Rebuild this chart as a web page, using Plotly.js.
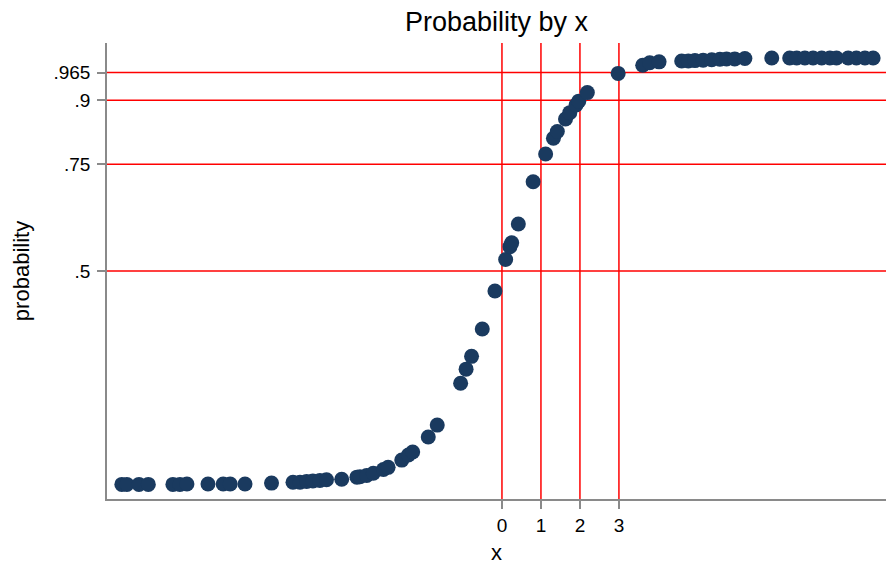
<!DOCTYPE html>
<html>
<head>
<meta charset="utf-8">
<script src="https://cdn.plot.ly/plotly-3.0.1.min.js"></script>
<style>html,body{margin:0;padding:0;background:#fff;}#chart{width:886px;height:567px;}</style>
</head>
<body>
<div id="chart"></div>
<script>
// x values of the points
var xValues = [-9.75,-9.62,-9.31,-9.07,-8.44,-8.26,-8.08,-7.54,-7.15,-6.97,-6.59,-5.91,-5.36,-5.18,-5.01,-4.85,-4.67,-4.50,-4.11,-3.72,-3.64,-3.47,-3.30,-3.04,-2.92,-2.57,-2.40,-2.29,-1.89,-1.66,-1.06,-0.92,-0.78,-0.505,-0.18,0.095,0.205,0.25,0.42,0.80,1.12,1.32,1.42,1.63,1.74,1.90,1.97,2.19,2.98,3.61,3.79,4.03,4.61,4.78,4.95,5.16,5.38,5.59,5.76,5.97,6.23,6.92,7.38,7.56,7.77,7.98,8.20,8.41,8.58,8.88,9.09,9.31,9.52];
// probability values of the points
var probValues = [0.000,0.000,0.000,0.000,0.000,0.000,0.001,0.001,0.001,0.001,0.001,0.003,0.005,0.005,0.007,0.008,0.009,0.011,0.012,0.017,0.018,0.021,0.026,0.035,0.040,0.057,0.069,0.076,0.111,0.139,0.237,0.270,0.300,0.364,0.453,0.527,0.557,0.566,0.610,0.709,0.774,0.811,0.827,0.856,0.871,0.889,0.898,0.918,0.963,0.982,0.988,0.990,0.992,0.992,0.993,0.994,0.995,0.996,0.997,0.997,0.998,0.999,0.999,0.999,0.999,0.999,0.999,0.999,0.999,0.999,0.999,0.999,0.999];
// reference lines
var xLines = [0, 1, 2, 3];
var yLines = [0.5, 0.75, 0.9, 0.965];
var xTickVals = [0, 1, 2, 3];
var xTickText = ['0', '1', '2', '3'];
var yTickVals = [0.5, 0.75, 0.9, 0.965];
var yTickText = ['.5', '.75', '.9', '.965'];

var shapes = [];
xLines.forEach(function (v) {
  shapes.push({type: 'line', xref: 'x', yref: 'paper', x0: v, x1: v, y0: 0, y1: 1,
    line: {color: '#ff0000', width: 1.5}, layer: 'below'});
});
yLines.forEach(function (v) {
  shapes.push({type: 'line', xref: 'paper', yref: 'y', x0: 0, x1: 1, y0: v, y1: v,
    line: {color: '#ff0000', width: 1.5}, layer: 'below'});
});

var font = 'Liberation Sans, Arial, Helvetica, sans-serif';
var trace = {
  x: xValues, y: probValues, type: 'scatter', mode: 'markers',
  marker: {color: '#1a3a5f', size: 15, line: {width: 0}},
  hoverinfo: 'x+y'
};
var layout = {
  width: 886, height: 567,
  margin: {l: 107, r: 0, t: 43, b: 68, pad: 0},
  paper_bgcolor: '#ffffff', plot_bgcolor: '#ffffff',
  showlegend: false,
  font: {family: font, color: '#000000', size: 19},
  title: {text: 'Probability by x', x: 0.5, xref: 'paper', xanchor: 'center',
    y: 1 - 22 / 567, yref: 'container', yanchor: 'middle',
    font: {family: font, size: 27, color: '#000000'}},
  xaxis: {
    range: [-10.13, 9.85], showgrid: false, zeroline: false,
    showline: true, linecolor: '#8a8a8a', linewidth: 1.5,
    ticks: 'outside', ticklen: 8, tickwidth: 1.5, tickcolor: '#8a8a8a',
    tickvals: xTickVals, ticktext: xTickText,
    tickfont: {family: font, size: 19, color: '#000000'},
    title: {text: 'x', font: {family: font, size: 22, color: '#000000'}, standoff: 10}
  },
  yaxis: {
    range: [-0.0342, 1.0342], showgrid: false, zeroline: false,
    showline: true, linecolor: '#8a8a8a', linewidth: 1.5,
    ticks: 'outside', ticklen: 8, tickwidth: 1.5, tickcolor: '#8a8a8a',
    tickvals: yTickVals, ticktext: yTickText,
    tickfont: {family: font, size: 19, color: '#000000'},
    ticklabelstandoff: 3,
    title: {text: 'probability', font: {family: font, size: 22, color: '#000000'}, standoff: 18}
  },
  shapes: shapes
};
Plotly.newPlot('chart', [trace], layout, {displayModeBar: false, responsive: false});
</script>
</body>
</html>
